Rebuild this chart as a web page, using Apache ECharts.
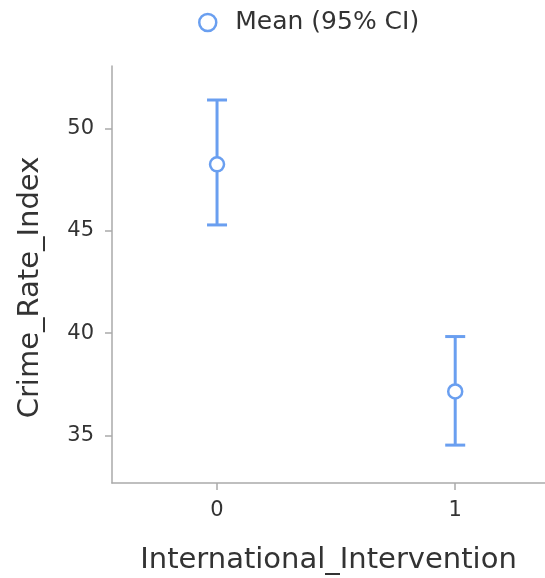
<!DOCTYPE html>
<html>
<head>
<meta charset="utf-8">
<script src="https://cdn.jsdelivr.net/npm/echarts@6/dist/echarts.min.js"></script>
<style>
  html, body { margin: 0; padding: 0; background: #fff; }
  #chart { width: 545px; height: 578px; }
</style>
</head>
<body>
<div id="chart"></div>
<script>
// 分组 (International_Intervention)
var groups = [0, 1];
// 均值与 95% 置信区间
var means = [48.24, 37.15];
var ciLow = [45.28, 34.53];
var ciHigh = [51.38, 39.83];
var yTicks = [35, 40, 45, 50];

var blue = '#6a9ff0';
var font = 'DejaVu Sans';

var meanData = groups.map(function (g, i) { return [g, means[i]]; });
var ciData = groups.map(function (g, i) { return [g, ciLow[i], ciHigh[i]]; });

var myChart = echarts.init(document.getElementById('chart'));
var option = {
    backgroundColor: '#fff',
    textStyle: { fontFamily: font },
    legend: {
        top: 5,
        left: 193,
        itemWidth: 17,
        itemHeight: 17,
        itemGap: 10,
        textStyle: { fontFamily: font, fontSize: 25, color: '#333', padding: [0, 0, 0, 14] },
        itemStyle: { borderWidth: 2.5, borderColor: blue, opacity: 1 },
        data: ['Mean (95% CI)']
    },
    grid: { left: 112, right: 0, top: 66, bottom: 95, outerBoundsMode: 'none' },
    xAxis: {
        type: 'value',
        min: -0.441,
        max: 1.377,
        name: 'International_Intervention',
        nameLocation: 'middle',
        nameGap: 63,
        nameTextStyle: { fontFamily: font, fontSize: 29, color: '#333' },
        axisLine: { show: true, onZero: false, lineStyle: { color: '#aaa', width: 1.5 } },
        axisTick: { show: true, length: 7, customValues: groups, lineStyle: { color: '#aaa', width: 1.5 } },
        axisLabel: { customValues: groups, margin: 17, fontSize: 21, color: '#333', fontFamily: font },
        splitLine: { show: false }
    },
    yAxis: {
        type: 'value',
        min: 32.68,
        max: 53.04,
        name: 'Crime_Rate_Index',
        nameLocation: 'middle',
        nameGap: 67,
        nameRotate: 90,
        nameTextStyle: { fontFamily: font, fontSize: 29, color: '#333', padding: [0, 26, 0, 0] },
        axisLine: { show: true, onZero: false, lineStyle: { color: '#aaa', width: 1.5 } },
        axisTick: { show: true, length: 7, customValues: yTicks, lineStyle: { color: '#aaa', width: 1.5 } },
        axisLabel: { customValues: yTicks, margin: 18, fontSize: 21, color: '#333', fontFamily: font },
        splitLine: { show: false }
    },
    series: [
        {
            name: 'CI',
            type: 'custom',
            z: 2,
            data: ciData,
            encode: { x: 0, y: [1, 2] },
            renderItem: function (params, api) {
                var x = api.value(0);
                var lo = api.coord([x, api.value(1)]);
                var hi = api.coord([x, api.value(2)]);
                var half = 10;
                var st = { stroke: blue, lineWidth: 3 };
                return {
                    type: 'group',
                    children: [
                        { type: 'line', shape: { x1: lo[0], y1: lo[1], x2: hi[0], y2: hi[1] }, style: st },
                        { type: 'line', shape: { x1: hi[0] - half, y1: hi[1], x2: hi[0] + half, y2: hi[1] }, style: st },
                        { type: 'line', shape: { x1: lo[0] - half, y1: lo[1], x2: lo[0] + half, y2: lo[1] }, style: st }
                    ]
                };
            }
        },
        {
            name: 'Mean (95% CI)',
            type: 'scatter',
            z: 3,
            symbol: 'circle',
            symbolSize: 14,
            data: meanData,
            itemStyle: { color: '#fff', borderColor: blue, borderWidth: 2.5, opacity: 1 }
        }
    ]
};
myChart.setOption(option);
</script>
</body>
</html>
